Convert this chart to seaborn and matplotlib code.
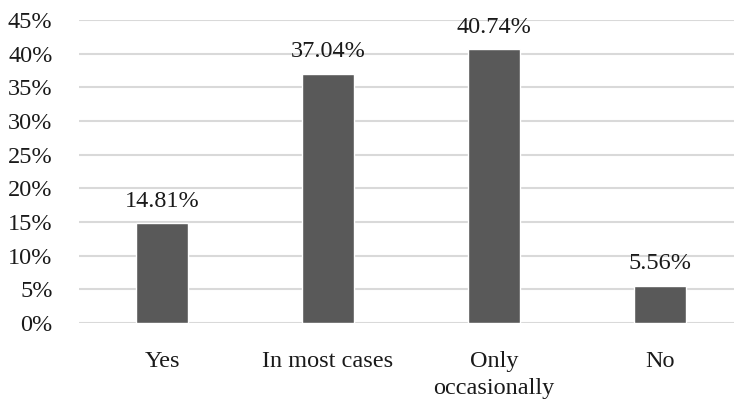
import matplotlib
matplotlib.use("Agg")
import matplotlib.pyplot as plt
import seaborn as sns
import pandas as pd
from matplotlib.ticker import MultipleLocator, FuncFormatter

categories = ["Yes", "In most cases", "Only\noccasionally", "No"]
shares = [14.81, 37.04, 40.74, 5.56]  # percent

df = pd.DataFrame({"answer": categories, "share": shares})

sns.set_theme(style="white")
plt.rcParams["font.family"] = ["Liberation Serif", "DejaVu Serif"]

W, H = 734, 404
FS = 17.5
fig = plt.figure(figsize=(W / 100, H / 100), dpi=100)
ax = fig.add_axes([79 / W, (H - 323) / H, (734 - 79) / W, (323 - 20) / H])

sns.barplot(data=df, x="answer", y="share", color="#595959", saturation=1,
            width=0.31, ax=ax, zorder=3)

ax.set_xlim(-0.5, 3.446)
ax.set_ylim(0, 45)
ax.yaxis.set_major_locator(MultipleLocator(5))
ax.yaxis.set_major_formatter(FuncFormatter(lambda v, p: f"{v:.0f}%"))
ax.grid(axis="y", color="#d9d9d9", linewidth=1.5, zorder=0)
ax.grid(axis="x", visible=False)
for s in ax.spines.values():
    s.set_visible(False)

ax.set_xlabel("")
ax.set_ylabel("")
ax.tick_params(axis="y", length=0, pad=19, labelsize=FS, labelcolor="#1a1a1a")
ax.tick_params(axis="x", length=0, pad=20, labelsize=FS, labelcolor="#1a1a1a")
for lbl in ax.get_xticklabels():
    lbl.set_linespacing(1.4)

for container in ax.containers:
    ax.bar_label(container, labels=[f"{v:.2f}%" for v in shares], padding=8,
                 fontsize=FS, color="#1a1a1a")

fig.savefig("out.png", dpi=100)
